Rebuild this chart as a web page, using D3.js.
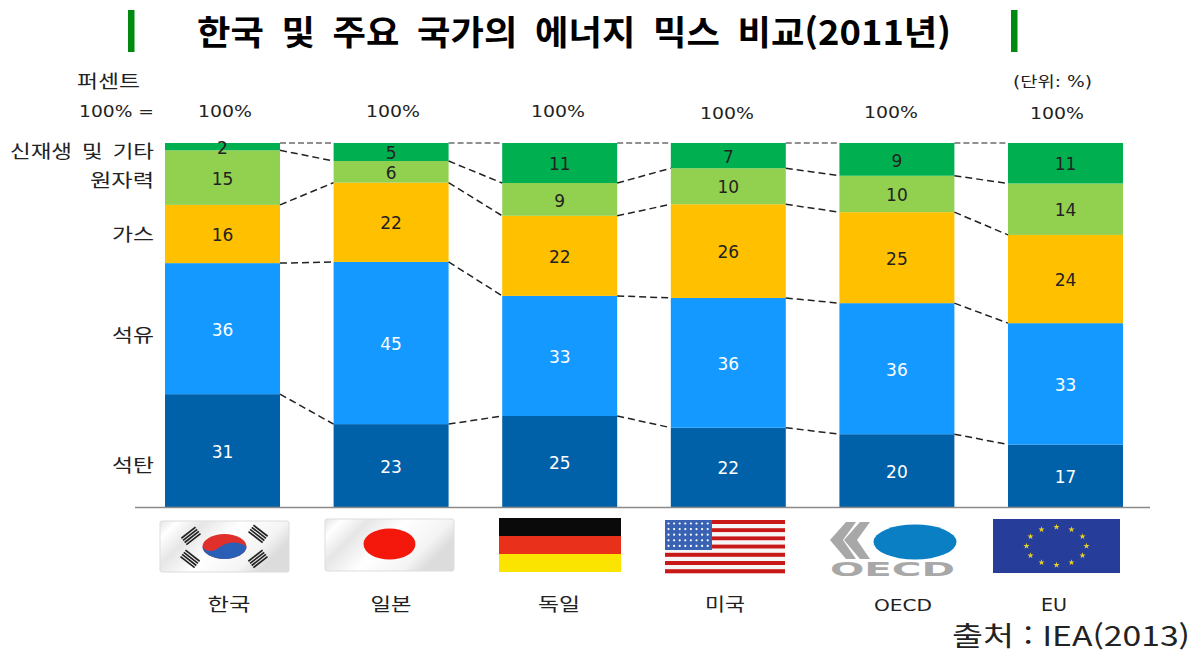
<!DOCTYPE html>
<html lang="ko"><head><meta charset="utf-8">
<script src="https://cdn.jsdelivr.net/npm/d3@7/dist/d3.min.js"></script>
<style>
html,body{margin:0;padding:0;background:#fff;overflow:hidden}
svg{display:block}
text{font-family:"DejaVu Sans","Noto Sans CJK KR",sans-serif;fill:#222}
.kr{font-family:"Noto Sans CJK KR",sans-serif}
</style></head><body>
<svg id="c" width="1196" height="654" viewBox="0 0 1196 654"></svg>
<script>
const countries = ["한국","일본","독일","미국","OECD","EU"];
const coal = [31,23,25,22,20,17];
const oil = [36,45,33,36,36,33];
const gas = [16,22,22,26,25,24];
const nuclear = [15,6,9,10,10,14];
const renewables = [2,5,11,7,9,11];
const energyNames = ["석탄","석유","가스","원자력","신재생 및 기타"];
const totals = ["100%","100%","100%","100%","100%","100%"];
const energyColors = ["#0060a8","#1399ff","#ffc000","#92d050","#00b050"];
const labelColors = ["#fff","#fff","#222","#222","#222"];

const svg = d3.select("#c");
const keys = ["coal","oil","gas","nuclear","renewables"];
const rows = countries.map((c,i)=>({country:c,coal:coal[i],oil:oil[i],gas:gas[i],nuclear:nuclear[i],renewables:renewables[i]}));
const stack = d3.stack().keys(keys).offset(d3.stackOffsetExpand)(rows);
const x = d3.scaleBand().domain(countries).range([165,1123]).paddingInner(0.318).paddingOuter(0);
const y = d3.scaleLinear().domain([0,1]).range([507,143]);

// Title
svg.append("g").selectAll("rect").data([128,1011]).join("rect").attr("x",d=>d).attr("y",10).attr("width",6.5).attr("height",42).attr("fill","#008a10");
svg.append("text").attr("class","kr").attr("x",197).attr("y",45)
  .attr("textLength",754).attr("lengthAdjust","spacingAndGlyphs").style("word-spacing","7px")
  .attr("font-size",34).attr("font-weight",700).style("fill","#000").text("한국 및 주요 국가의 에너지 믹스 비교(2011년)");

// Bars
const layer = svg.append("g").selectAll("g").data(stack).join("g").attr("fill",(d,i)=>energyColors[i]);
layer.selectAll("rect").data(d=>d).join("rect")
  .attr("x",d=>x(d.data.country)).attr("width",x.bandwidth())
  .attr("y",d=>y(d[1])).attr("height",d=>y(d[0])-y(d[1]));

// Connectors
const conn = svg.append("g").attr("fill","none").attr("stroke","#222");
stack.forEach((s,si)=>{
  d3.pairs(s).forEach(([a,b])=>{
    conn.append("line")
      .attr("x1",x(a.data.country)+x.bandwidth()).attr("x2",x(b.data.country))
      .attr("y1",y(a[1])).attr("y2",y(b[1]))
      .attr("stroke-width",si===4?1:1.5).attr("stroke-dasharray",si===4?"6 3":"7 4");
  });
});

// Baseline
svg.append("line").attr("x1",135).attr("x2",1150).attr("y1",507.5).attr("y2",507.5).attr("stroke","#8a8a8a").attr("stroke-width",1.3);

// Value labels
stack.forEach((s,si)=>{
  svg.append("g").selectAll("text").data(s).join("text")
    .attr("x",d=>x(d.data.country)+x.bandwidth()/2)
    .attr("y",d=>(y(d[0])+y(d[1]))/2+1)
    .attr("dy","0.36em").attr("text-anchor","middle").attr("font-size",17)
    .style("fill",labelColors[si])
    .text(d=>d.data[keys[si]]);
});

// Totals row
const totalX=[198,366,531,700,864,1030], totalY=[117,117,117,119,118,119];
svg.append("g").selectAll("text").data(totals).join("text")
  .attr("x",(d,i)=>totalX[i]).attr("y",(d,i)=>totalY[i]).attr("font-size",16.5)
  .attr("textLength",54).attr("lengthAdjust","spacingAndGlyphs").text(d=>d);

// Left labels
const leftY = {"신재생 및 기타":158,"원자력":187,"가스":241,"석유":342,"석탄":472};
const leftW = {"신재생 및 기타":144,"원자력":64,"가스":42,"석유":42,"석탄":42};
svg.append("g").selectAll("text").data(energyNames).join("text").attr("class","kr")
  .attr("x",d=>154-leftW[d]).attr("y",d=>leftY[d]).attr("font-size",18).style("word-spacing","3px")
  .attr("textLength",d=>leftW[d]).attr("lengthAdjust","spacingAndGlyphs").text(d=>d);
svg.append("text").attr("class","kr").attr("x",77).attr("y",88).attr("font-size",18).attr("textLength",63).attr("lengthAdjust","spacingAndGlyphs").text("퍼센트");
svg.append("text").attr("x",79).attr("y",117).attr("font-size",16.5).attr("textLength",75).attr("lengthAdjust","spacingAndGlyphs").text("100% =");
svg.append("text").attr("x",1013).attr("y",87).attr("font-size",15).attr("textLength",79).attr("lengthAdjust","spacingAndGlyphs").text("(단위: %)");

// Country labels
const nameX=[229,391,559,725,903,1054], nameW=[43,41,42,40,58,26];
svg.append("g").selectAll("text").data(countries).join("text")
  .attr("x",(d,i)=>nameX[i]-nameW[i]/2).attr("y",611).attr("font-size",d=>d.length>2?15:18)
  .attr("textLength",(d,i)=>nameW[i]).attr("lengthAdjust","spacingAndGlyphs").text(d=>d);

// Source
svg.append("text").attr("class","kr").attr("x",952).attr("y",646).attr("font-size",27)
  .attr("textLength",238).attr("lengthAdjust","spacingAndGlyphs").text("출처 : IEA(2013)");

// Flags
const defs = svg.append("defs");
const g1 = defs.append("linearGradient").attr("id","sheen").attr("x1",0).attr("x2",1).attr("y1",0).attr("y2",0.4);
[[0,"#e4e4e4"],[0.12,"#fff"],[0.3,"#e6e6e6"],[0.55,"#fff"],[0.85,"#f4f4f4"],[1,"#dcdcdc"]].forEach(s=>g1.append("stop").attr("offset",s[0]).attr("stop-color",s[1]));

// Korea
const kr = svg.append("g").attr("transform","translate(160,521)");
kr.append("rect").attr("width",129).attr("height",51).attr("rx",2).attr("fill","url(#sheen)").attr("stroke","#ddd");
kr.append("ellipse").attr("cx",64.5).attr("cy",25.5).attr("rx",22).attr("ry",12.5).attr("fill","#e0302c");
kr.append("path").attr("d","M42.5,25.5 C47,33 55,30 60,26 C66,21 78,19 86.5,25.5 A22,12.5 0 0 1 42.5,25.5 Z").attr("fill","#2a5fb8");
[[31,15,-38],[98,13,38],[30,38,38],[98,38,-38]].forEach(t=>{
  const tg=kr.append("g").attr("transform",`translate(${t[0]},${t[1]}) rotate(${t[2]})`);
  d3.range(4).forEach(k=>tg.append("rect").attr("x",-9).attr("y",-5+k*2.7).attr("width",18).attr("height",1.7).attr("fill","#222"));
});
// Japan
const jp = svg.append("g").attr("transform","translate(325,519)");
jp.append("rect").attr("width",129).attr("height",52).attr("rx",2).attr("fill","url(#sheen)").attr("stroke","#ddd");
jp.append("ellipse").attr("cx",64.5).attr("cy",25).attr("rx",26).attr("ry",15.5).attr("fill","#f4180c");
// Germany
const de = svg.append("g").attr("transform","translate(499,518)");
["#0a0a0a","#e8301a","#fbe400"].forEach((c,i)=>de.append("rect").attr("y",i*18).attr("width",122).attr("height",18).attr("fill",c));
// USA
const us = svg.append("g").attr("transform","translate(665,520)");
d3.range(13).forEach(i=>us.append("rect").attr("y",i*4.1).attr("width",120).attr("height",4.1).attr("fill",i%2?"#f6f6f6":"#c81818"));
us.append("rect").attr("width",47).attr("height",30).attr("fill","#3a62b4");
d3.range(5).forEach(r=>d3.range(8).forEach(c=>us.append("circle").attr("cx",3.5+c*5.6).attr("cy",3.5+r*5.6).attr("r",1.1).attr("fill","#fff")));
// OECD
const oe = svg.append("g").attr("transform","translate(830,520)");
oe.append("path").attr("d","M16,2 L26,2 L13,20 L26,39 L16,39 L0,20 Z").attr("fill","#a8a8a8");
oe.append("path").attr("d","M30,2 L40,2 L27,20 L40,39 L30,39 L14,20 Z").attr("fill","#a8a8a8");
oe.append("ellipse").attr("cx",85).attr("cy",22).attr("rx",41.5).attr("ry",17.5).attr("fill","#0a7fc4");
oe.append("text").attr("x",0).attr("y",55.5).attr("textLength",125).attr("lengthAdjust","spacingAndGlyphs")
  .attr("font-size",19).attr("font-weight",700).style("fill","#a8a8a8").text("OECD");
// EU
const eu = svg.append("g").attr("transform","translate(993,519)");
eu.append("rect").attr("width",127).attr("height",54).attr("fill","#263e9a");
d3.range(12).forEach(i=>{
  const a=i*Math.PI/6;
  eu.append("path").attr("d",d3.symbol(d3.symbolStar,12)())
    .attr("transform",`translate(${63.5+30*Math.sin(a)},${27-19*Math.cos(a)})`).attr("fill","#e8d020");
});
</script>
</body></html>
